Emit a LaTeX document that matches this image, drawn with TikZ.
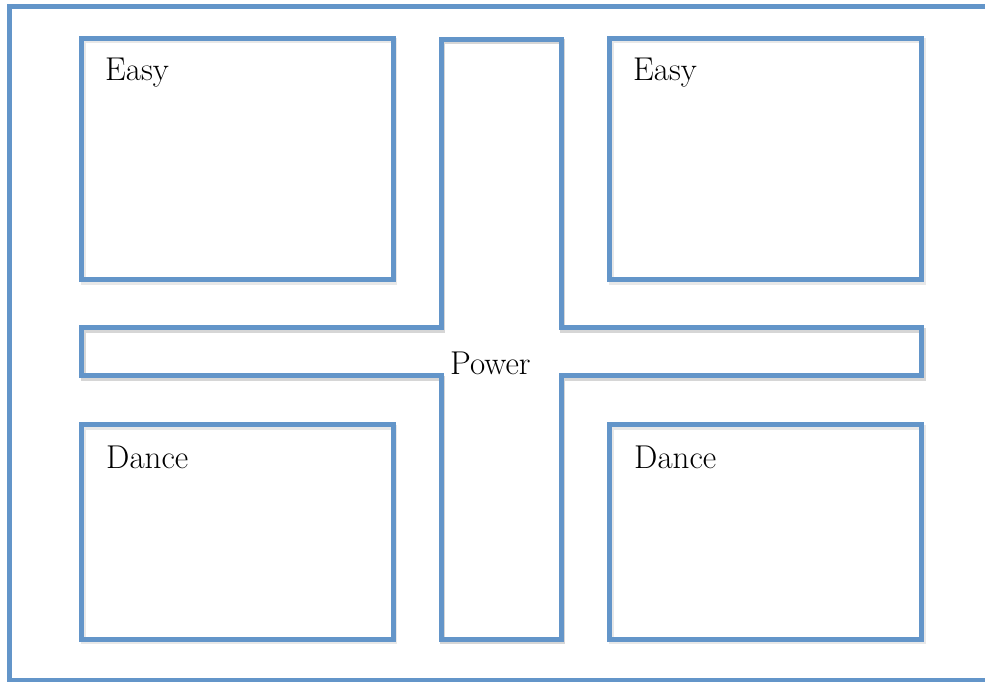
\documentclass[tikz,border=0pt]{standalone}
\usepackage{fontspec}
\definecolor{boxblue}{RGB}{99,149,201}
\tikzset{
  frame/.style={draw=boxblue, line width=5pt, line join=miter},
  shade/.style={draw=black!35, line width=5pt, opacity=0.45},
  lbl/.style={anchor=base west, inner sep=0pt, font=\fontsize{33}{40}\selectfont}
}
\begin{document}
\begin{tikzpicture}[x=1pt,y=-1pt]
\useasboundingbox (0,0) rectangle (985,682);
\fill[white] (0,0) rectangle (985,682);
% outer border
\draw[frame] (990,6.5) -- (9.5,6.5) -- (9.5,680) -- (990,680);
% shadows
\begin{scope}[shift={(1.5,2.5)}]
\draw[shade] (441,39.5) -- (561,39.5) -- (561,327.5) -- (921.5,327.5) -- (921.5,375.5) -- (561,375.5) -- (561,639) -- (441,639) -- (441,375.5) -- (81.5,375.5) -- (81.5,327.5) -- (441,327.5) -- cycle;
\draw[shade, opacity=0.25] (81.5,38.5) rectangle (393,279.5);
\draw[shade, opacity=0.25] (609.5,38.5) rectangle (921.5,279.5);
\draw[shade, opacity=0.25] (81.5,424.5) rectangle (393,639);
\draw[shade, opacity=0.25] (609.5,424.5) rectangle (921.5,639);
\end{scope}
% boxes
\draw[frame] (81.5,38.5) rectangle (393,279.5);
\draw[frame] (609.5,38.5) rectangle (921.5,279.5);
\draw[frame] (81.5,424.5) rectangle (393,639);
\draw[frame] (609.5,424.5) rectangle (921.5,639);
% cross
\draw[frame] (441,39.5) -- (561,39.5) -- (561,327.5) -- (921.5,327.5) -- (921.5,375.5) -- (561,375.5) -- (561,639) -- (441,639) -- (441,375.5) -- (81.5,375.5) -- (81.5,327.5) -- (441,327.5) -- cycle;
% labels
\node[lbl] (easyL) at (105,81) {Easy};
\node[lbl] (easyR) at (633,81) {Easy};
\node[lbl] (danceL) at (106,468) {Dance};
\node[lbl] (danceR) at (634,468) {Dance};
\node[lbl] (power) at (450,374.5) {Power};
\end{tikzpicture}
\end{document}
